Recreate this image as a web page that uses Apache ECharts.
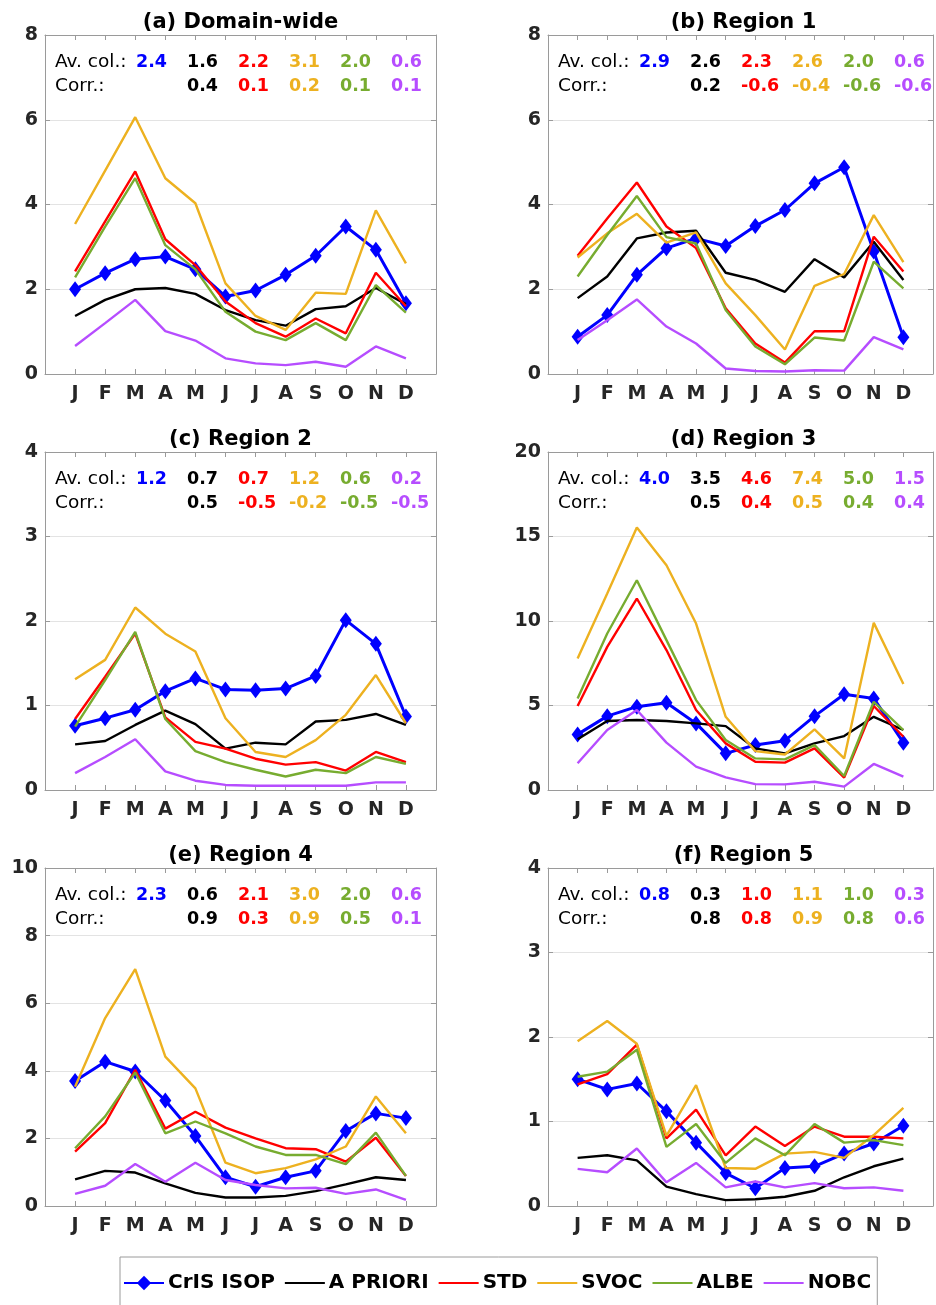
<!DOCTYPE html>
<html><head><meta charset="utf-8">
<script src="https://cdn.jsdelivr.net/npm/echarts@6/dist/echarts.min.js"></script>
<style>html,body{margin:0;padding:0;background:#fff}#c{width:936px;height:1305px}</style>
</head><body><div id="c"></div>
<script>
const months = ['J','F','M','A','M','J','J','A','S','O','N','D'];
const seriesNames = ['CrIS ISOP','A PRIORI','STD','SVOC','ALBE','NOBC'];
const seriesColors = ['#0000ff','#000000','#ff0000','#edb120','#77ac30','#b64dff'];
const titles = ['(a) Domain-wide','(b) Region 1','(c) Region 2','(d) Region 3','(e) Region 4','(f) Region 5'];
const yMax = [8, 8, 4, 20, 10, 4];
const yStep = [2, 2, 1, 5, 2, 1];

// (a) Domain-wide
const cris_a    = [2.0, 2.38, 2.71, 2.77, 2.47, 1.83, 1.97, 2.34, 2.79, 3.48, 2.93, 1.67];
const apriori_a = [1.37, 1.75, 2.0, 2.03, 1.89, 1.51, 1.27, 1.14, 1.53, 1.6, 2.03, 1.65];
const std_a     = [2.42, 3.6, 4.78, 3.18, 2.57, 1.71, 1.2, 0.88, 1.31, 0.96, 2.39, 1.6];
const svoc_a    = [3.54, 4.8, 6.06, 4.62, 4.03, 2.14, 1.37, 1.04, 1.92, 1.89, 3.86, 2.61];
const albe_a    = [2.28, 3.48, 4.62, 3.04, 2.47, 1.47, 1.0, 0.8, 1.2, 0.8, 2.1, 1.45];
const nobc_a    = [0.66, 1.2, 1.75, 1.01, 0.79, 0.37, 0.25, 0.21, 0.29, 0.17, 0.65, 0.37];
// (b) Region 1
const cris_b    = [0.88, 1.39, 2.34, 2.97, 3.2, 3.02, 3.49, 3.87, 4.5, 4.88, 2.89, 0.87];
const apriori_b = [1.79, 2.3, 3.2, 3.34, 3.38, 2.39, 2.22, 1.94, 2.71, 2.28, 3.12, 2.22];
const std_b     = [2.79, 3.67, 4.52, 3.48, 2.97, 1.55, 0.72, 0.27, 1.01, 1.01, 3.24, 2.42];
const svoc_b    = [2.75, 3.32, 3.78, 3.1, 3.34, 2.14, 1.39, 0.58, 2.08, 2.36, 3.75, 2.64];
const albe_b    = [2.3, 3.28, 4.2, 3.23, 3.08, 1.51, 0.65, 0.23, 0.86, 0.79, 2.65, 2.02];
const nobc_b    = [0.8, 1.27, 1.76, 1.12, 0.72, 0.13, 0.07, 0.06, 0.09, 0.08, 0.87, 0.58];
// (c) Region 2
const cris_c    = [0.76, 0.85, 0.95, 1.17, 1.32, 1.19, 1.18, 1.2, 1.35, 2.01, 1.73, 0.87];
const apriori_c = [0.54, 0.58, 0.77, 0.94, 0.78, 0.49, 0.56, 0.54, 0.81, 0.83, 0.9, 0.77];
const std_c     = [0.84, 1.34, 1.85, 0.86, 0.57, 0.49, 0.37, 0.3, 0.33, 0.23, 0.45, 0.33];
const svoc_c    = [1.31, 1.54, 2.16, 1.85, 1.64, 0.85, 0.45, 0.39, 0.59, 0.89, 1.36, 0.79];
const albe_c    = [0.75, 1.3, 1.87, 0.84, 0.46, 0.33, 0.24, 0.16, 0.24, 0.2, 0.39, 0.31];
const nobc_c    = [0.2, 0.39, 0.6, 0.22, 0.11, 0.06, 0.05, 0.05, 0.05, 0.05, 0.09, 0.09];
// (d) Region 3
const cris_d    = [3.29, 4.37, 4.93, 5.16, 3.94, 2.17, 2.66, 2.92, 4.37, 5.67, 5.42, 2.8];
const apriori_d = [3.0, 4.08, 4.14, 4.08, 3.94, 3.78, 2.46, 2.17, 2.76, 3.19, 4.33, 3.55];
const std_d     = [4.97, 8.47, 11.33, 8.28, 4.73, 2.76, 1.67, 1.62, 2.46, 0.73, 4.97, 3.15];
const svoc_d    = [7.78, 11.63, 15.53, 13.3, 9.85, 4.33, 2.3, 2.1, 3.59, 1.87, 9.89, 6.27];
const albe_d    = [5.42, 9.26, 12.41, 8.87, 5.32, 2.96, 1.87, 1.81, 2.66, 0.83, 5.22, 3.55];
const nobc_d    = [1.58, 3.55, 4.73, 2.8, 1.38, 0.75, 0.35, 0.33, 0.49, 0.2, 1.54, 0.79];
// (e) Region 4
const cris_e    = [3.7, 4.27, 3.98, 3.12, 2.07, 0.85, 0.57, 0.85, 1.04, 2.22, 2.74, 2.6];
const apriori_e = [0.79, 1.04, 0.99, 0.67, 0.39, 0.25, 0.25, 0.3, 0.44, 0.64, 0.85, 0.77];
const std_e     = [1.61, 2.45, 4.03, 2.29, 2.79, 2.32, 2.0, 1.71, 1.68, 1.31, 2.02, 0.89];
const svoc_e    = [3.53, 5.56, 7.01, 4.42, 3.48, 1.28, 0.97, 1.12, 1.38, 1.76, 3.24, 2.15];
const albe_e    = [1.71, 2.65, 3.95, 2.15, 2.5, 2.15, 1.76, 1.51, 1.51, 1.24, 2.17, 0.89];
const nobc_e    = [0.36, 0.6, 1.24, 0.72, 1.28, 0.77, 0.62, 0.52, 0.54, 0.36, 0.49, 0.18];
// (f) Region 5
const cris_f    = [1.5, 1.38, 1.45, 1.12, 0.75, 0.39, 0.21, 0.45, 0.47, 0.62, 0.74, 0.95];
const apriori_f = [0.57, 0.6, 0.54, 0.23, 0.14, 0.07, 0.08, 0.11, 0.18, 0.34, 0.47, 0.56];
const std_f     = [1.44, 1.56, 1.91, 0.8, 1.14, 0.6, 0.94, 0.71, 0.94, 0.82, 0.82, 0.8];
const svoc_f    = [1.95, 2.19, 1.92, 0.83, 1.43, 0.45, 0.44, 0.62, 0.64, 0.57, 0.84, 1.16];
const albe_f    = [1.53, 1.59, 1.85, 0.7, 0.97, 0.51, 0.8, 0.6, 0.97, 0.75, 0.78, 0.72];
const nobc_f    = [0.44, 0.4, 0.68, 0.28, 0.51, 0.22, 0.29, 0.22, 0.27, 0.21, 0.22, 0.18];

// annotation values (Av. col. for 6 series, Corr. for 5 model series)
const avcol_a = ['2.4','1.6','2.2','3.1','2.0','0.6'];
const corr_a  = ['0.4','0.1','0.2','0.1','0.1'];
const avcol_b = ['2.9','2.6','2.3','2.6','2.0','0.6'];
const corr_b  = ['0.2','-0.6','-0.4','-0.6','-0.6'];
const avcol_c = ['1.2','0.7','0.7','1.2','0.6','0.2'];
const corr_c  = ['0.5','-0.5','-0.2','-0.5','-0.5'];
const avcol_d = ['4.0','3.5','4.6','7.4','5.0','1.5'];
const corr_d  = ['0.5','0.4','0.5','0.4','0.4'];
const avcol_e = ['2.3','0.6','2.1','3.0','2.0','0.6'];
const corr_e  = ['0.9','0.3','0.9','0.5','0.1'];
const avcol_f = ['0.8','0.3','1.0','1.1','1.0','0.3'];
const corr_f  = ['0.8','0.8','0.9','0.8','0.6'];

const panelData = [
  [cris_a, apriori_a, std_a, svoc_a, albe_a, nobc_a],
  [cris_b, apriori_b, std_b, svoc_b, albe_b, nobc_b],
  [cris_c, apriori_c, std_c, svoc_c, albe_c, nobc_c],
  [cris_d, apriori_d, std_d, svoc_d, albe_d, nobc_d],
  [cris_e, apriori_e, std_e, svoc_e, albe_e, nobc_e],
  [cris_f, apriori_f, std_f, svoc_f, albe_f, nobc_f]
];
const panelAv = [avcol_a, avcol_b, avcol_c, avcol_d, avcol_e, avcol_f];
const panelCorr = [corr_a, corr_b, corr_c, corr_d, corr_e, corr_f];

// layout
const gridPos = [[45,35,339],[548,35,339],[45,452,338],[548,452,338],[45,868,338],[548,868,338]];
const GW = 391;
const boxColor = '#9a9a9a';
const FONT = 'DejaVu Sans';

const grid = [], xAxis = [], yAxis = [], series = [], graphic = [];
gridPos.forEach((g, i) => {
  const [L, T, H] = g;
  grid.push({left: L, top: T, width: GW, height: H, containLabel: false});
  const tick = {show: true, inside: true, length: 5, lineStyle: {color: boxColor, width: 1}};
  const line = {show: true, onZero: false, lineStyle: {color: boxColor, width: 1}};
  xAxis.push({type: 'value', gridIndex: i, position: 'bottom', min: 0, max: 13, interval: 1,
    axisLine: line, axisTick: tick, splitLine: {show: false},
    axisLabel: {formatter: v => months[v - 1] || '', fontSize: 19, fontWeight: 'bold', color: '#262626', fontFamily: FONT, margin: 11}});
  xAxis.push({type: 'value', gridIndex: i, position: 'top', min: 0, max: 13, interval: 1,
    axisLine: line, axisTick: tick, splitLine: {show: false}, axisLabel: {show: false}});
  yAxis.push({type: 'value', gridIndex: i, position: 'left', min: 0, max: yMax[i], interval: yStep[i],
    axisLine: line, axisTick: tick,
    splitLine: {show: true, lineStyle: {color: '#e3e3e3', width: 1}},
    axisLabel: {fontSize: 19, fontWeight: 'bold', color: '#262626', fontFamily: FONT, margin: 7}});
  yAxis.push({type: 'value', gridIndex: i, position: 'right', min: 0, max: yMax[i], interval: yStep[i],
    axisLine: line, axisTick: tick, splitLine: {show: false}, axisLabel: {show: false}});

  panelData[i].forEach((arr, s) => {
    const isCris = s === 0;
    series.push({
      name: seriesNames[s], type: 'line', xAxisIndex: 2 * i, yAxisIndex: 2 * i,
      data: arr.map((v, k) => [k + 1, v]),
      symbol: isCris ? 'diamond' : 'none', symbolSize: isCris ? [12, 16] : 0,
      showSymbol: isCris,
      itemStyle: {color: seriesColors[s]},
      lineStyle: {color: seriesColors[s], width: isCris ? 3 : 2.4},
      z: 2 + s, animation: false, silent: true
    });
  });

  graphic.push({type: 'text', x: L + GW / 2, y: T - 12, silent: true,
    style: {text: titles[i], font: 'bold 21px ' + FONT, fill: '#000', align: 'center', verticalAlign: 'middle'}});
  graphic.push({type: 'text', x: L + 10, y: T + 27, silent: true,
    style: {text: 'Av. col.:', font: '18.5px ' + FONT, fill: '#000', align: 'left', verticalAlign: 'middle'}});
  graphic.push({type: 'text', x: L + 10, y: T + 51, silent: true,
    style: {text: 'Corr.:', font: '18.5px ' + FONT, fill: '#000', align: 'left', verticalAlign: 'middle'}});
  const cols = [91, 142, 193, 244, 295, 346];
  panelAv[i].forEach((t, s) => {
    graphic.push({type: 'text', x: L + cols[s], y: T + 27, silent: true,
      style: {text: t, font: 'bold 17.5px ' + FONT, fill: seriesColors[s], align: 'left', verticalAlign: 'middle'}});
  });
  panelCorr[i].forEach((t, s) => {
    graphic.push({type: 'text', x: L + cols[s + 1], y: T + 51, silent: true,
      style: {text: t, font: 'bold 17.5px ' + FONT, fill: seriesColors[s + 1], align: 'left', verticalAlign: 'middle'}});
  });
});

const legendData = seriesNames.map((n, s) => s === 0
  ? {name: n}
  : {name: n, itemStyle: {opacity: 0, color: 'rgba(0,0,0,0)', borderWidth: 0}});

const chart = echarts.init(document.getElementById('c'), null, {renderer: 'canvas'});
chart.setOption({
  animation: false,
  backgroundColor: '#fff',
  grid, xAxis, yAxis, series, graphic,
  legend: {
    data: legendData, left: 120, top: 1257, orient: 'horizontal',
    itemWidth: 40, itemHeight: 18, itemGap: 9,
    padding: [16, 6, 20, 3],
    borderColor: boxColor, borderWidth: 1,
    textStyle: {fontSize: 20, fontWeight: 'bold', color: '#000', fontFamily: FONT, padding: [0, 0, 0, -1]},
    selectedMode: false
  }
});
</script></body></html>
